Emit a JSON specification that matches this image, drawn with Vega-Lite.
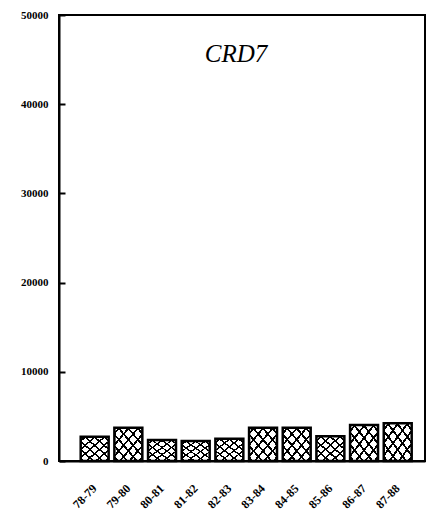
{
  "$schema": "https://vega.github.io/schema/vega-lite/v6.json",
  "width": 366,
  "height": 446,
  "autosize": {"type": "none"},
  "padding": {"left": 59, "top": 15, "right": 9, "bottom": 55},
  "background": "white",
  "title": {
    "text": "CRD7",
    "font": "Liberation Serif",
    "fontStyle": "italic",
    "fontWeight": "normal",
    "fontSize": 25,
    "color": "black",
    "anchor": "middle",
    "dx": -6,
    "offset": -58
  },
  "config": {
    "view": {"stroke": "black", "strokeWidth": 2},
    "axis": {
      "labelFont": "Liberation Serif",
      "labelFontWeight": "bold",
      "labelColor": "black",
      "domainColor": "black",
      "domainWidth": 2,
      "tickColor": "black",
      "tickWidth": 2,
      "grid": false,
      "title": null
    }
  },
  "data": {
    "values": [
      {"year": "78-79", "value": 2730},
      {"year": "79-80", "value": 3740},
      {"year": "80-81", "value": 2360},
      {"year": "81-82", "value": 2250},
      {"year": "82-83", "value": 2500},
      {"year": "83-84", "value": 3740},
      {"year": "84-85", "value": 3740},
      {"year": "85-86", "value": 2780},
      {"year": "86-87", "value": 4040},
      {"year": "87-88", "value": 4240}
    ]
  },
  "encoding": {
    "x": {
      "field": "year",
      "type": "nominal",
      "sort": null,
      "scale": {"paddingInner": 0.17, "paddingOuter": 0.52, "align": 0.62},
      "axis": {"labelAngle": -45, "labelFontSize": 12, "ticks": false, "labelPadding": 25, "labelAlign": "right", "labelBaseline": "middle"}
    },
    "y": {
      "field": "value",
      "type": "quantitative",
      "scale": {"domain": [0, 50000], "nice": false},
      "axis": {"values": [0, 10000, 20000, 30000, 40000, 50000], "format": "d", "labelFontSize": 11, "tickSize": -6, "labelPadding": 17}
    }
  },
  "layer": [
    {"mark": {"type": "bar", "fill": "white"}},
    {
      "mark": {
        "type": "bar",
        "fill": {
          "gradient": "linear",
          "x1": 0, "y1": 0, "x2": 1, "y2": 1,
          "stops": [
            {"offset": 0, "color": "rgba(0,0,0,0)"},
            {"offset": 0.07, "color": "rgba(0,0,0,0)"},
            {"offset": 0.07, "color": "black"},
            {"offset": 0.11, "color": "black"},
            {"offset": 0.11, "color": "rgba(0,0,0,0)"},
            {"offset": 0.24, "color": "rgba(0,0,0,0)"},
            {"offset": 0.24, "color": "black"},
            {"offset": 0.28, "color": "black"},
            {"offset": 0.28, "color": "rgba(0,0,0,0)"},
            {"offset": 0.41, "color": "rgba(0,0,0,0)"},
            {"offset": 0.41, "color": "black"},
            {"offset": 0.45, "color": "black"},
            {"offset": 0.45, "color": "rgba(0,0,0,0)"},
            {"offset": 0.58, "color": "rgba(0,0,0,0)"},
            {"offset": 0.58, "color": "black"},
            {"offset": 0.62, "color": "black"},
            {"offset": 0.62, "color": "rgba(0,0,0,0)"},
            {"offset": 0.75, "color": "rgba(0,0,0,0)"},
            {"offset": 0.75, "color": "black"},
            {"offset": 0.79, "color": "black"},
            {"offset": 0.79, "color": "rgba(0,0,0,0)"},
            {"offset": 0.92, "color": "rgba(0,0,0,0)"},
            {"offset": 0.92, "color": "black"},
            {"offset": 0.96, "color": "black"},
            {"offset": 0.96, "color": "rgba(0,0,0,0)"},
            {"offset": 1, "color": "rgba(0,0,0,0)"}
          ]
        }
      }
    },
    {
      "mark": {
        "type": "bar",
        "stroke": "black",
        "strokeWidth": 2.5,
        "fill": {
          "gradient": "linear",
          "x1": 1, "y1": 0, "x2": 0, "y2": 1,
          "stops": [
            {"offset": 0, "color": "rgba(0,0,0,0)"},
            {"offset": 0.07, "color": "rgba(0,0,0,0)"},
            {"offset": 0.07, "color": "black"},
            {"offset": 0.11, "color": "black"},
            {"offset": 0.11, "color": "rgba(0,0,0,0)"},
            {"offset": 0.24, "color": "rgba(0,0,0,0)"},
            {"offset": 0.24, "color": "black"},
            {"offset": 0.28, "color": "black"},
            {"offset": 0.28, "color": "rgba(0,0,0,0)"},
            {"offset": 0.41, "color": "rgba(0,0,0,0)"},
            {"offset": 0.41, "color": "black"},
            {"offset": 0.45, "color": "black"},
            {"offset": 0.45, "color": "rgba(0,0,0,0)"},
            {"offset": 0.58, "color": "rgba(0,0,0,0)"},
            {"offset": 0.58, "color": "black"},
            {"offset": 0.62, "color": "black"},
            {"offset": 0.62, "color": "rgba(0,0,0,0)"},
            {"offset": 0.75, "color": "rgba(0,0,0,0)"},
            {"offset": 0.75, "color": "black"},
            {"offset": 0.79, "color": "black"},
            {"offset": 0.79, "color": "rgba(0,0,0,0)"},
            {"offset": 0.92, "color": "rgba(0,0,0,0)"},
            {"offset": 0.92, "color": "black"},
            {"offset": 0.96, "color": "black"},
            {"offset": 0.96, "color": "rgba(0,0,0,0)"},
            {"offset": 1, "color": "rgba(0,0,0,0)"}
          ]
        }
      }
    }
  ]
}
